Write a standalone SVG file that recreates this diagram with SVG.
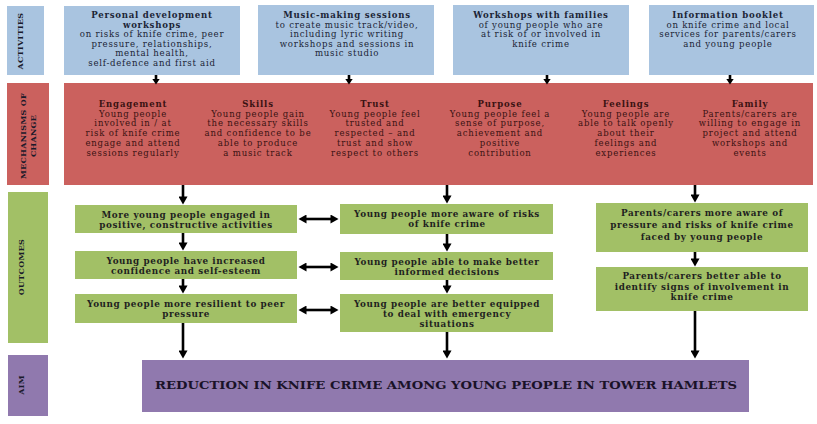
<svg xmlns="http://www.w3.org/2000/svg" width="817" height="424" viewBox="0 0 817 424">
<style>
text{font-family:"DejaVu Serif","Liberation Serif",serif;text-anchor:middle}
.act{fill:#a9c4e0}
.mech{fill:#cb615e}
.out{fill:#a2c066}
.aim{fill:#9079ae}
.lt{font-size:8px;font-weight:bold;fill:#1a1a2a;letter-spacing:0.3px}
.at{font-size:8.6px;fill:#1c2436;letter-spacing:0.75px}
.b{font-weight:bold}
.mt{font-size:8.5px;fill:#3a1212;letter-spacing:0.85px}
.ot{font-size:8.8px;font-weight:bold;fill:#1f1f1f;letter-spacing:0.6px}
.con{stroke:#000;stroke-width:2.6;fill:none}
</style>
<defs>
<marker id="ah" markerUnits="userSpaceOnUse" markerWidth="9" markerHeight="9" viewBox="0 0 8 9" refX="0.5" refY="4.5" orient="auto-start-reverse"><path d="M0,0 L8,4.5 L0,9 z" fill="#000"/></marker>
<marker id="ahs" markerUnits="userSpaceOnUse" markerWidth="6" markerHeight="8" viewBox="0 0 6 8" refX="0.5" refY="4" orient="auto"><path d="M0,0 L6,4 L0,8 z" fill="#000"/></marker>
</defs>
<rect width="817" height="424" fill="#fff"/>

<g id="label-activities"><rect x="7" y="6" width="37" height="69" class="act"/><text class="lt" transform="translate(23,41) rotate(-90)">ACTIVITIES</text></g>
<g id="label-mechanisms"><rect x="7" y="83" width="42" height="102" class="mech"/><text class="lt" transform="translate(26,136) rotate(-90)">MECHANISMS OF</text><text class="lt" transform="translate(36,136) rotate(-90)">CHANGE</text></g>
<g id="label-outcomes"><rect x="8" y="192" width="40" height="151" class="out"/><text class="lt" transform="translate(24,267) rotate(-90)">OUTCOMES</text></g>
<g id="label-aim"><rect x="8" y="355" width="40" height="61" class="aim"/><text class="lt" transform="translate(24,385) rotate(-90)">AIM</text></g>

<g id="act1"><rect x="64" y="6" width="176" height="69" class="act"/>
<text class="at"><tspan x="152" y="18" class="b">Personal development</tspan><tspan x="152" y="27.5" class="b">workshops</tspan><tspan x="152" y="37">on risks of knife crime, peer</tspan><tspan x="152" y="46.5">pressure, relationships,</tspan><tspan x="152" y="56">mental health,</tspan><tspan x="152" y="65.5">self-defence and first aid</tspan></text></g>
<g id="act2"><rect x="258" y="5" width="176" height="70" class="act"/>
<text class="at"><tspan x="347" y="18" class="b">Music-making sessions</tspan><tspan x="347" y="27.5">to create music track/video,</tspan><tspan x="347" y="37">including lyric writing</tspan><tspan x="347" y="46.5">workshops and sessions in</tspan><tspan x="347" y="56">music studio</tspan></text></g>
<g id="act3"><rect x="453" y="5" width="176" height="70" class="act"/>
<text class="at"><tspan x="541" y="18" class="b">Workshops with families</tspan><tspan x="541" y="27.5">of young people who are</tspan><tspan x="541" y="37">at risk of or involved in</tspan><tspan x="541" y="46.5">knife crime</tspan></text></g>
<g id="act4"><rect x="649" y="5" width="165" height="70" class="act"/>
<text class="at"><tspan x="728" y="18" class="b">Information booklet</tspan><tspan x="728" y="27.5">on knife crime and local</tspan><tspan x="728" y="37">services for parents/carers</tspan><tspan x="728" y="46.5">and young people</tspan></text></g>

<g id="mechanisms"><rect x="64" y="83" width="749" height="102" class="mech"/>
<text class="mt"><tspan x="133" y="107" class="b">Engagement</tspan><tspan x="133" y="116.7">Young people</tspan><tspan x="133" y="126.4">involved in / at</tspan><tspan x="133" y="136.1">risk of knife crime</tspan><tspan x="133" y="145.8">engage and attend</tspan><tspan x="133" y="155.5">sessions regularly</tspan></text>
<text class="mt"><tspan x="258" y="107" class="b">Skills</tspan><tspan x="258" y="116.7">Young people gain</tspan><tspan x="258" y="126.4">the necessary skills</tspan><tspan x="258" y="136.1">and confidence to be</tspan><tspan x="258" y="145.8">able to produce</tspan><tspan x="258" y="155.5">a music track</tspan></text>
<text class="mt"><tspan x="375" y="107" class="b">Trust</tspan><tspan x="375" y="116.7">Young people feel</tspan><tspan x="375" y="126.4">trusted and</tspan><tspan x="375" y="136.1">respected – and</tspan><tspan x="375" y="145.8">trust and show</tspan><tspan x="375" y="155.5">respect to others</tspan></text>
<text class="mt"><tspan x="500" y="107" class="b">Purpose</tspan><tspan x="500" y="116.7">Young people feel a</tspan><tspan x="500" y="126.4">sense of purpose,</tspan><tspan x="500" y="136.1">achievement and</tspan><tspan x="500" y="145.8">positive</tspan><tspan x="500" y="155.5">contribution</tspan></text>
<text class="mt"><tspan x="626" y="107" class="b">Feelings</tspan><tspan x="626" y="116.7">Young people are</tspan><tspan x="626" y="126.4">able to talk openly</tspan><tspan x="626" y="136.1">about their</tspan><tspan x="626" y="145.8">feelings and</tspan><tspan x="626" y="155.5">experiences</tspan></text>
<text class="mt"><tspan x="750" y="107" class="b">Family</tspan><tspan x="750" y="116.7">Parents/carers are</tspan><tspan x="750" y="126.4">willing to engage in</tspan><tspan x="750" y="136.1">project and attend</tspan><tspan x="750" y="145.8">workshops and</tspan><tspan x="750" y="155.5">events</tspan></text>
</g>

<g id="out-l1"><rect x="75" y="205" width="222" height="28" class="out"/><text class="ot"><tspan x="186" y="218">More young people engaged in</tspan><tspan x="186" y="228">positive, constructive activities</tspan></text></g>
<g id="out-l2"><rect x="75" y="251" width="222" height="28" class="out"/><text class="ot"><tspan x="186" y="263.5">Young people have increased</tspan><tspan x="186" y="273.5">confidence and self-esteem</tspan></text></g>
<g id="out-l3"><rect x="75" y="294" width="222" height="29" class="out"/><text class="ot"><tspan x="186" y="307">Young people more resilient to peer</tspan><tspan x="186" y="317">pressure</tspan></text></g>
<g id="out-m1"><rect x="340" y="204" width="213" height="30" class="out"/><text class="ot"><tspan x="447" y="217">Young people more aware of risks</tspan><tspan x="447" y="227">of knife crime</tspan></text></g>
<g id="out-m2"><rect x="340" y="252" width="213" height="28" class="out"/><text class="ot"><tspan x="447" y="265">Young people able to make better</tspan><tspan x="447" y="275">informed decisions</tspan></text></g>
<g id="out-m3"><rect x="340" y="294" width="213" height="38" class="out"/><text class="ot"><tspan x="447" y="307">Young people are better equipped</tspan><tspan x="447" y="317">to deal with emergency</tspan><tspan x="447" y="327">situations</tspan></text></g>
<g id="out-r1"><rect x="596" y="203" width="212" height="49" class="out"/><text class="ot"><tspan x="702" y="216">Parents/carers more aware of</tspan><tspan x="702" y="227.5">pressure and risks of knife crime</tspan><tspan x="702" y="240">faced by young people</tspan></text></g>
<g id="out-r2"><rect x="596" y="267" width="212" height="44" class="out"/><text class="ot"><tspan x="702" y="279">Parents/carers better able to</tspan><tspan x="702" y="289.5">identify signs of involvement in</tspan><tspan x="702" y="300">knife crime</tspan></text></g>

<g id="aim"><rect x="142" y="360" width="607" height="52" class="aim"/><text x="446" y="389" font-size="11" font-weight="bold" fill="#1a1228" textLength="582" lengthAdjust="spacingAndGlyphs">REDUCTION IN KNIFE CRIME AMONG YOUNG PEOPLE IN TOWER HAMLETS</text></g>

<g id="connectors" class="con">
<path d="M156,75V79" marker-end="url(#ahs)"/>
<path d="M349,75V79" marker-end="url(#ahs)"/>
<path d="M547,75V79" marker-end="url(#ahs)"/>
<path d="M730,75V79" marker-end="url(#ahs)"/>
<path d="M183,185V197" marker-end="url(#ah)"/>
<path d="M183,233V243" marker-end="url(#ah)"/>
<path d="M183,279V286" marker-end="url(#ah)"/>
<path d="M183,323V351" marker-end="url(#ah)"/>
<path d="M447,185V196" marker-end="url(#ah)"/>
<path d="M447,234V244" marker-end="url(#ah)"/>
<path d="M447,280V286" marker-end="url(#ah)"/>
<path d="M447,332V351" marker-end="url(#ah)"/>
<path d="M695,185V195" marker-end="url(#ah)"/>
<path d="M695,252V259" marker-end="url(#ah)"/>
<path d="M695,311V351" marker-end="url(#ah)"/>
<path d="M306,219H331" marker-start="url(#ah)" marker-end="url(#ah)"/>
<path d="M306,267H331" marker-start="url(#ah)" marker-end="url(#ah)"/>
<path d="M306,310H331" marker-start="url(#ah)" marker-end="url(#ah)"/>
</g>
</svg>
